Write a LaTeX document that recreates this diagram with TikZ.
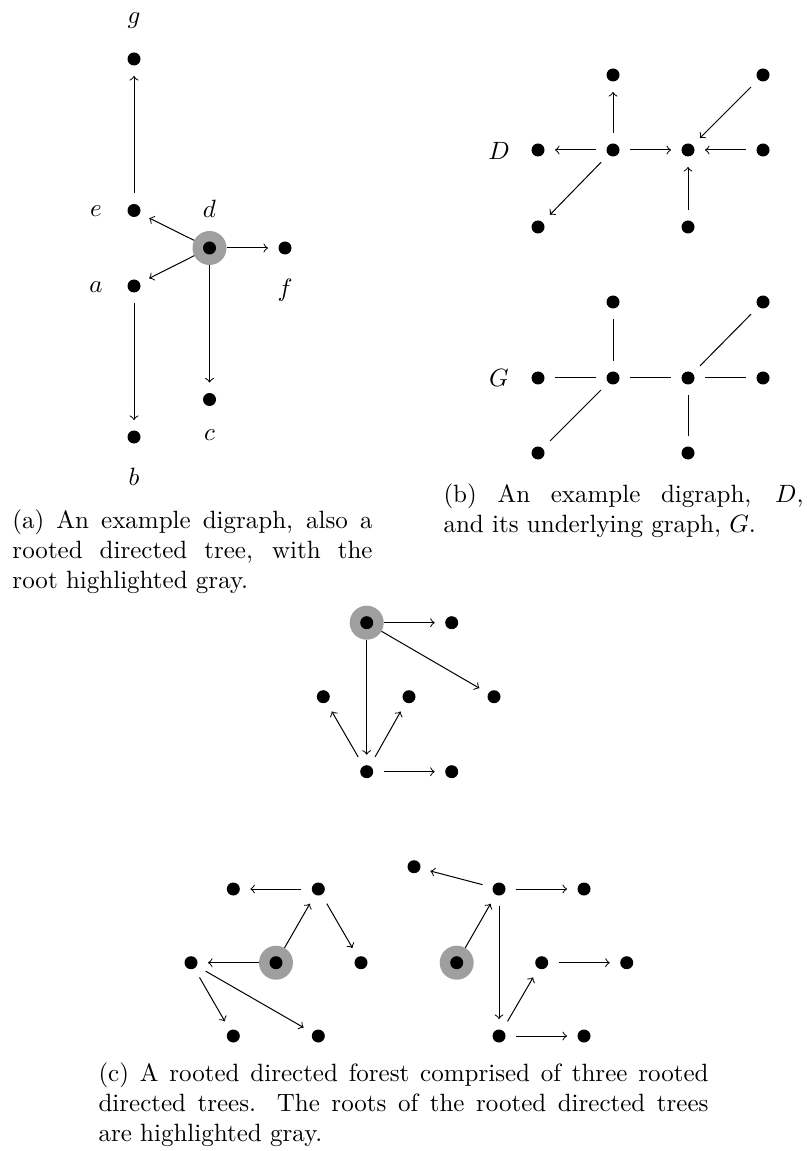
\documentclass[tikz,border=0pt]{standalone}
\begin{document}
\begin{tikzpicture}[x=0.4pt,y=-0.4pt,
  vtx/.style={circle,minimum size=13.6pt,inner sep=0pt,outer sep=0pt,
    path picture={\fill[black] (path picture bounding box.center) circle (2.6pt);}},
  rootvtx/.style={vtx,fill=gray!75},
  arrowline/.style={->},
  plainline/.style={-},
  lbl/.style={inner sep=0pt},
  captext/.style={inner sep=0pt,anchor=base west,align=justify}]
\useasboundingbox (0,0) rectangle (806,1151);

% (a) rooted directed tree
\node[vtx] (g) at (134,59) {};
\node[vtx] (e) at (134,210.5) {};
\node[rootvtx] (d) at (209.5,248) {};
\node[vtx] (f) at (285,248) {};
\node[vtx] (a) at (134,286) {};
\node[vtx] (c) at (209.5,399.5) {};
\node[vtx] (b) at (134,437) {};
\node[lbl] (lg) at (134,21) {$g$};
\node[lbl] (le) at (96,211) {$e$};
\node[lbl] (ld) at (209.5,209) {$d$};
\node[lbl] (lf) at (285,290) {$f$};
\node[lbl] (la) at (96,287) {$a$};
\node[lbl] (lc) at (209.5,435) {$c$};
\node[lbl] (lb) at (134,477) {$b$};
\draw[arrowline] (e) -- (g);
\draw[arrowline] (d) -- (e);
\draw[arrowline] (d) -- (a);
\draw[arrowline] (d) -- (f);
\draw[arrowline] (d) -- (c);
\draw[arrowline] (a) -- (b);
\node[captext,text width=144pt] (capa) at (12,528)
  {(a) An example digraph, also a\linebreak rooted directed tree, with the\linebreak root highlighted gray.};

% (b) digraph D
\node[lbl] (lD) at (499,151) {$D$};
\node[vtx] (D1) at (538,150) {};
\node[vtx] (D2) at (613,150) {};
\node[vtx] (D3) at (688,150) {};
\node[vtx] (D4) at (763,150) {};
\node[vtx] (Dt1) at (613,75) {};
\node[vtx] (Dt2) at (763,75) {};
\node[vtx] (Db1) at (538,227) {};
\node[vtx] (Db2) at (688,227) {};
\draw[arrowline] (D2) -- (D1);
\draw[arrowline] (D2) -- (Dt1);
\draw[arrowline] (D2) -- (D3);
\draw[arrowline] (D2) -- (Db1);
\draw[arrowline] (Dt2) -- (D3);
\draw[arrowline] (D4) -- (D3);
\draw[arrowline] (Db2) -- (D3);

% (b) underlying graph G
\node[lbl] (lG) at (499,378) {$G$};
\node[vtx] (G1) at (538,378) {};
\node[vtx] (G2) at (613,378) {};
\node[vtx] (G3) at (688,378) {};
\node[vtx] (G4) at (763,378) {};
\node[vtx] (Gt1) at (613,302) {};
\node[vtx] (Gt2) at (763,302) {};
\node[vtx] (Gb1) at (538,453) {};
\node[vtx] (Gb2) at (688,453) {};
\draw[plainline] (G2) -- (G1);
\draw[plainline] (G2) -- (Gt1);
\draw[plainline] (G2) -- (G3);
\draw[plainline] (G2) -- (Gb1);
\draw[plainline] (Gt2) -- (G3);
\draw[plainline] (G4) -- (G3);
\draw[plainline] (Gb2) -- (G3);
\node[captext,text width=144pt] (capb) at (443,502)
  {(b) An example digraph, $D$,\linebreak and its underlying graph, $G$.};

% (c) first tree of the forest
\node[rootvtx] (r) at (366.7,622.7) {};
\node[vtx] (t1) at (451.7,622.7) {};
\node[vtx] (m1) at (323.3,696.7) {};
\node[vtx] (m2) at (409,696.7) {};
\node[vtx] (m3) at (494,696.7) {};
\node[vtx] (b1) at (366.7,771.7) {};
\node[vtx] (b2) at (451.7,771.7) {};
\draw[arrowline] (r) -- (t1);
\draw[arrowline] (r) -- (m3);
\draw[arrowline] (r) -- (b1);
\draw[arrowline] (b1) -- (m1);
\draw[arrowline] (b1) -- (m2);
\draw[arrowline] (b1) -- (b2);

% (c) second tree
\node[rootvtx] (r1) at (276,962.7) {};
\node[vtx] (p1) at (318.3,889) {};
\node[vtx] (p2) at (233.3,889) {};
\node[vtx] (p3) at (361,962.7) {};
\node[vtx] (p4) at (191,962.7) {};
\node[vtx] (p5) at (233.3,1036) {};
\node[vtx] (p6) at (318.3,1036) {};
\draw[arrowline] (r1) -- (p1);
\draw[arrowline] (p1) -- (p2);
\draw[arrowline] (p1) -- (p3);
\draw[arrowline] (r1) -- (p4);
\draw[arrowline] (p4) -- (p5);
\draw[arrowline] (p4) -- (p6);

% (c) third tree
\node[rootvtx] (r2) at (456.7,962.7) {};
\node[vtx] (q1) at (499,889) {};
\node[vtx] (q2) at (414,866.7) {};
\node[vtx] (q3) at (584,889) {};
\node[vtx] (q4) at (499,1036) {};
\node[vtx] (q5) at (541.7,962.7) {};
\node[vtx] (q6) at (626.7,962.7) {};
\node[vtx] (q7) at (584,1036) {};
\draw[arrowline] (r2) -- (q1);
\draw[arrowline] (q1) -- (q2);
\draw[arrowline] (q1) -- (q3);
\draw[arrowline] (q1) -- (q4);
\draw[arrowline] (q4) -- (q5);
\draw[arrowline] (q5) -- (q6);
\draw[arrowline] (q4) -- (q7);
\node[captext,text width=244pt] (capc) at (98,1081)
  {(c) A rooted directed forest comprised of three rooted\linebreak directed trees. The roots of the rooted directed trees\linebreak are highlighted gray.};
\end{tikzpicture}
\end{document}
